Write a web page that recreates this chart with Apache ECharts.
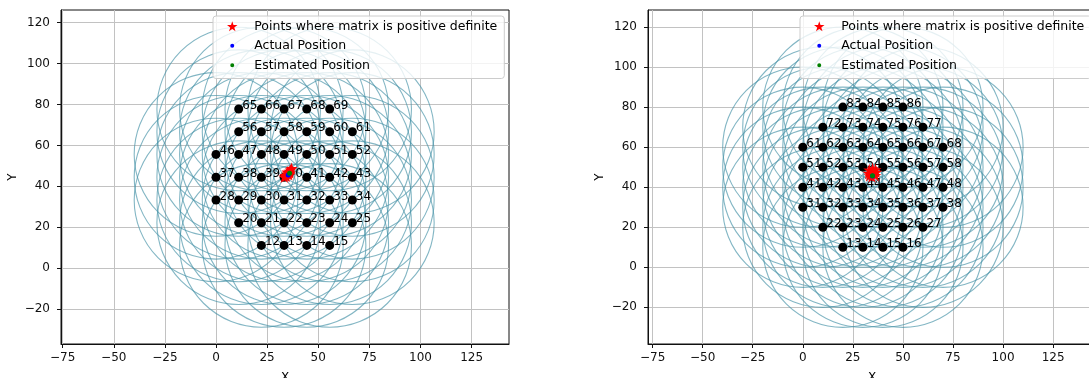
<!DOCTYPE html>
<html>
<head>
<meta charset="UTF-8">
<title>Positions</title>
<script src="https://cdn.jsdelivr.net/npm/echarts@6/dist/echarts.min.js"></script>
<style>
  * { margin: 0; padding: 0; }
  body { background: #fff; }
  #main { width: 1089px; height: 378px; }
</style>
</head>
<body>
<div id="main"></div>
<script>
// tick labels
var xTicks = [-75, -50, -25, 0, 25, 50, 75, 100, 125];
var yTicks = [-20, 0, 20, 40, 60, 80, 100, 120];

// left plot: anchor points [x, y, id]
var leftPoints = [
  [22.2, 11.1, 12], [33.3, 11.1, 13], [44.4, 11.1, 14], [55.6, 11.1, 15],
  [11.1, 22.2, 20], [22.2, 22.2, 21], [33.3, 22.2, 22], [44.4, 22.2, 23], [55.6, 22.2, 24], [66.7, 22.2, 25],
  [0, 33.3, 28], [11.1, 33.3, 29], [22.2, 33.3, 30], [33.3, 33.3, 31], [44.4, 33.3, 32], [55.6, 33.3, 33], [66.7, 33.3, 34],
  [0, 44.4, 37], [11.1, 44.4, 38], [22.2, 44.4, 39], [33.3, 44.4, 40], [44.4, 44.4, 41], [55.6, 44.4, 42], [66.7, 44.4, 43],
  [0, 55.6, 46], [11.1, 55.6, 47], [22.2, 55.6, 48], [33.3, 55.6, 49], [44.4, 55.6, 50], [55.6, 55.6, 51], [66.7, 55.6, 52],
  [11.1, 66.7, 56], [22.2, 66.7, 57], [33.3, 66.7, 58], [44.4, 66.7, 59], [55.6, 66.7, 60], [66.7, 66.7, 61],
  [11.1, 77.8, 65], [22.2, 77.8, 66], [33.3, 77.8, 67], [44.4, 77.8, 68], [55.6, 77.8, 69]
];
var leftStars = [
  [33.4, 44.6], [33.9, 45.3], [34.4, 45.0], [34.8, 46.0], [35.4, 46.6], [35.9, 47.4],
  [36.5, 48.0], [37.0, 48.7], [35.6, 45.8], [34.9, 47.0], [36.2, 46.6]
];
var leftActual = [[35.3, 45.5]];
var leftEstimated = [[36.0, 46.4]];

// right plot: anchor points [x, y, id]
var rightPoints = [
  [20, 10, 13], [30, 10, 14], [40, 10, 15], [50, 10, 16],
  [10, 20, 22], [20, 20, 23], [30, 20, 24], [40, 20, 25], [50, 20, 26], [60, 20, 27],
  [0, 30, 31], [10, 30, 32], [20, 30, 33], [30, 30, 34], [40, 30, 35], [50, 30, 36], [60, 30, 37], [70, 30, 38],
  [0, 40, 41], [10, 40, 42], [20, 40, 43], [30, 40, 44], [40, 40, 45], [50, 40, 46], [60, 40, 47], [70, 40, 48],
  [0, 50, 51], [10, 50, 52], [20, 50, 53], [30, 50, 54], [40, 50, 55], [50, 50, 56], [60, 50, 57], [70, 50, 58],
  [0, 60, 61], [10, 60, 62], [20, 60, 63], [30, 60, 64], [40, 60, 65], [50, 60, 66], [60, 60, 67], [70, 60, 68],
  [10, 70, 72], [20, 70, 73], [30, 70, 74], [40, 70, 75], [50, 70, 76], [60, 70, 77],
  [20, 80, 83], [30, 80, 84], [40, 80, 85], [50, 80, 86]
];
var rightStars = [
  [34.7, 47.3], [32.8, 47.0], [36.6, 47.5], [34.5, 45.3], [34.9, 49.3],
  [33.3, 45.8], [36.2, 45.9], [33.2, 48.7], [36.3, 48.8]
];
var rightActual = [[34.8, 45.6]];
var rightEstimated = [[34.8, 45.7]];

var circleRadius = 40;

var FONT = 'DejaVu Sans';
var starPath = 'path://M0,-10L2.245,-3.09L9.51,-3.09L3.633,1.18L5.878,8.09L0,3.82L-5.878,8.09L-3.633,1.18L-9.51,-3.09L-2.245,-3.09Z';
var dotIcon = 'path://M0,0L0.01,0M10,10L10.01,10M5,3A2,2,0,1,1,5,7A2,2,0,1,1,5,3Z';
var STAR_NAME = 'Points where matrix is positive definite';

function minus(v) { return String(v).replace('-', '\u2212'); }

function xAxisFor(idx, min, max) {
  return {
    type: 'value', gridIndex: idx, min: min, max: max,
    name: 'X', nameLocation: 'middle', nameGap: 28,
    nameTextStyle: { fontFamily: FONT, fontSize: 12, color: '#000' },
    axisLine: { show: true, onZero: false, lineStyle: { color: '#111', width: 1 } },
    axisTick: { show: true, length: 4, customValues: xTicks, lineStyle: { color: '#111' } },
    axisLabel: { customValues: xTicks, formatter: minus, margin: 8, fontFamily: FONT, fontSize: 12, color: '#111' },
    splitLine: { show: true, lineStyle: { color: '#c2c2c2', width: 1 } }
  };
}
function yAxisFor(idx, min, max) {
  return {
    type: 'value', gridIndex: idx, min: min, max: max,
    name: 'Y', nameLocation: 'middle', nameGap: 42,
    nameTextStyle: { fontFamily: FONT, fontSize: 12, color: '#000' },
    axisLine: { show: true, onZero: false, lineStyle: { color: '#111', width: 1 } },
    axisTick: { show: true, length: 4, customValues: yTicks, lineStyle: { color: '#111' } },
    axisLabel: { customValues: yTicks, formatter: minus, margin: 11, fontFamily: FONT, fontSize: 12, color: '#111' },
    splitLine: { show: true, lineStyle: { color: '#c2c2c2', width: 1 } }
  };
}

function circleRender(params, api) {
  var c = api.coord([api.value(0), api.value(1)]);
  var s = api.size([circleRadius, circleRadius]);
  return {
    type: 'circle',
    shape: { cx: c[0], cy: c[1], r: s[0] },
    style: { fill: 'none', stroke: 'rgba(72,148,168,0.68)', lineWidth: 1.1 }
  };
}

function seriesFor(idx, points, stars, actual, estimated) {
  return [
    { type: 'custom', name: 'circles', xAxisIndex: idx, yAxisIndex: idx, z: 1,
      renderItem: circleRender, data: points, clip: true, silent: true },
    { type: 'scatter', name: 'anchors', xAxisIndex: idx, yAxisIndex: idx, z: 2,
      symbol: 'circle', symbolSize: 9, itemStyle: { color: '#000', opacity: 1 }, data: points,
      label: { show: true, formatter: function (p) { return p.data[2]; },
        position: [8, 7], align: 'left', verticalAlign: 'bottom',
        fontFamily: FONT, fontSize: 12, color: '#000' } },
    { type: 'scatter', name: STAR_NAME, xAxisIndex: idx, yAxisIndex: idx, z: 3,
      symbol: starPath, symbolSize: 12, itemStyle: { color: '#ff0000', opacity: 1 }, data: stars },
    { type: 'scatter', name: 'Actual Position', xAxisIndex: idx, yAxisIndex: idx, z: 4,
      symbol: 'circle', symbolSize: 5, itemStyle: { color: '#0000ff', opacity: 1 }, data: actual },
    { type: 'scatter', name: 'Estimated Position', xAxisIndex: idx, yAxisIndex: idx, z: 5,
      symbol: 'circle', symbolSize: 5, itemStyle: { color: '#008000', opacity: 1 }, data: estimated }
  ];
}

function legendAt(left) {
  return {
    left: left, top: 16, orient: 'vertical', selectedMode: false,
    itemWidth: 34, itemHeight: 10, itemGap: 5,
    padding: [3, 7, 6, 14],
    backgroundColor: 'rgba(255,255,255,0.8)', borderColor: '#cccccc', borderWidth: 1, borderRadius: 3,
    textStyle: { fontFamily: FONT, fontSize: 12.5, color: '#000', lineHeight: 14.5 },
    data: [
      { name: STAR_NAME, icon: starPath },
      { name: 'Actual Position', icon: dotIcon },
      { name: 'Estimated Position', icon: dotIcon }
    ]
  };
}

var chart = echarts.init(document.getElementById('main'));
chart.setOption({
  animation: false,
  grid: [
    { left: 61, top: 10, width: 448, height: 334, outerBoundsMode: 'none', show: true,
      borderColor: '#111', borderWidth: 1, backgroundColor: 'transparent' },
    { left: 648, top: 10, width: 448, height: 334, outerBoundsMode: 'none', show: true,
      borderColor: '#111', borderWidth: 1, backgroundColor: 'transparent' }
  ],
  xAxis: [xAxisFor(0, -75.8, 143.3), xAxisFor(1, -77.3, 146.4)],
  yAxis: [yAxisFor(0, -37.1, 126.2), yAxisFor(1, -38.3, 128.5)],
  legend: [legendAt(213), legendAt(800)],
  series: seriesFor(0, leftPoints, leftStars, leftActual, leftEstimated)
    .concat(seriesFor(1, rightPoints, rightStars, rightActual, rightEstimated))
});
</script>
</body>
</html>
